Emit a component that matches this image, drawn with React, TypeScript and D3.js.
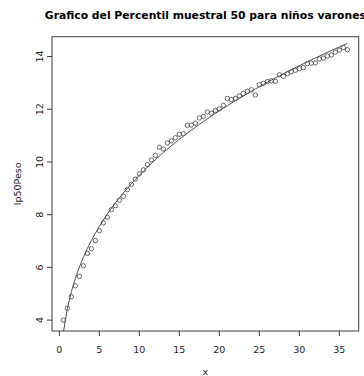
import React from "react";
import * as d3 from "d3";

const ages: number[] = [
  0.5, 1, 1.5, 2, 2.5, 3, 3.5, 4, 4.5, 5, 5.5, 6, 6.5, 7, 7.5, 8, 8.5, 9, 9.5, 10,
  10.5, 11, 11.5, 12, 12.5, 13, 13.5, 14, 14.5, 15, 15.5, 16, 16.5, 17, 17.5, 18,
  18.5, 19, 19.5, 20, 20.5, 21, 21.5, 22, 22.5, 23, 23.5, 24, 24.5, 25, 25.5, 26,
  26.5, 27, 27.5, 28, 28.5, 29, 29.5, 30, 30.5, 31, 31.5, 32, 32.5, 33, 33.5, 34,
  34.5, 35, 35.5, 36,
];
const p50Peso: number[] = [
  4.0, 4.45, 4.89, 5.3, 5.66, 6.06, 6.53, 6.71, 7.02, 7.39, 7.69, 7.9, 8.19, 8.34,
  8.55, 8.7, 8.95, 9.15, 9.35, 9.55, 9.7, 9.9, 10.08, 10.25, 10.56, 10.49, 10.72,
  10.8, 10.92, 11.05, 11.07, 11.39, 11.4, 11.47, 11.67, 11.73, 11.9, 11.85, 11.95,
  12.02, 12.15, 12.41, 12.37, 12.41, 12.51, 12.6, 12.68, 12.74, 12.54, 12.93,
  12.98, 13.05, 13.08, 13.06, 13.31, 13.25, 13.35, 13.42, 13.48, 13.54, 13.58,
  13.73, 13.75, 13.76, 13.91, 13.94, 14.02, 14.06, 14.17, 14.24, 14.34, 14.26,
];
const xTicks: number[] = [0, 5, 10, 15, 20, 25, 30, 35];
const yTicks: number[] = [4, 6, 8, 10, 12, 14];

const titleText = "Grafico del Percentil muestral 50 para niños varones";
const xLabel = "x";
const yLabel = "lp50Peso";

// Nonlinear least squares fit y = a * x^b (Gauss-Newton), derived from the data
function fitPower(xs: number[], ys: number[]) {
  const lx = xs.map(Math.log);
  const ly = ys.map(Math.log);
  const mx = d3.mean(lx)!;
  const my = d3.mean(ly)!;
  let sxy = 0, sxx = 0;
  lx.forEach((v, i) => { sxy += (v - mx) * (ly[i] - my); sxx += (v - mx) * (v - mx); });
  let b = sxy / sxx;
  let a = Math.exp(my - b * mx);
  for (let it = 0; it < 30; it++) {
    let j11 = 0, j12 = 0, j22 = 0, g1 = 0, g2 = 0;
    xs.forEach((x, i) => {
      const f = a * Math.pow(x, b);
      const r = ys[i] - f;
      const da = Math.pow(x, b);
      const db = f * Math.log(x);
      j11 += da * da; j12 += da * db; j22 += db * db;
      g1 += da * r; g2 += db * r;
    });
    const det = j11 * j22 - j12 * j12;
    const stepA = (j22 * g1 - j12 * g2) / det;
    const stepB = (j11 * g2 - j12 * g1) / det;
    a += stepA; b += stepB;
  }
  return { a, b };
}

export default function App() {
  const W = 364, H = 376;
  const left = 52, right = 358.7, top = 36.7, bottom = 331;

  const [x0, x1] = d3.extent(ages) as [number, number];
  const [y0, y1] = d3.extent(p50Peso) as [number, number];
  const xr = (x1 - x0) * 0.04, yr = (y1 - y0) * 0.04;
  const x = d3.scaleLinear().domain([x0 - xr, x1 + xr]).range([left, right]);
  const y = d3.scaleLinear().domain([y0 - yr, y1 + yr]).range([bottom, top]);

  const { a, b } = fitPower(ages, p50Peso);
  const line = d3.line<number>().x((d) => x(d)).y((d) => y(a * Math.pow(d, b)));
  const path = line(ages) || "";

  const stroke = "#3a3a3a";
  const font = "DejaVu Sans, Liberation Sans, sans-serif";

  return (
    <svg width={W} height={H} style={{ position: "absolute", left: 0, top: 0, background: "#fff" }}>
      <defs>
        <clipPath id="plotclip">
          <rect x={left} y={top} width={right - left} height={bottom - top} />
        </clipPath>
      </defs>
      <rect x={0} y={0} width={W} height={H} fill="#fff" />
      <text x={(left + right) / 2} y={18.5} textAnchor="middle" fontFamily={font} fontWeight="bold" fontSize={10.8} fill="#000">
        {titleText}
      </text>
      <rect x={left} y={top} width={right - left} height={bottom - top} fill="none" stroke={stroke} strokeWidth={1} />
      {xTicks.map((t) => (
        <g key={"x" + t}>
          <line x1={x(t)} x2={x(t)} y1={bottom} y2={bottom + 5} stroke={stroke} strokeWidth={1} />
          <text x={x(t)} y={353} textAnchor="middle" fontFamily={font} fontSize={9.5} fill="#222">{t}</text>
        </g>
      ))}
      {yTicks.map((t) => (
        <g key={"y" + t}>
          <line x1={left - 5} x2={left} y1={y(t)} y2={y(t)} stroke={stroke} strokeWidth={1} />
          <text transform={`translate(42.5,${y(t)}) rotate(-90)`} textAnchor="middle" fontFamily={font} fontSize={9.5} fill="#222">{t}</text>
        </g>
      ))}
      <text x={(left + right) / 2} y={375} textAnchor="middle" fontFamily={font} fontSize={9.5} fill="#222">{xLabel}</text>
      <text transform={`translate(20.5,${(top + bottom) / 2}) rotate(-90)`} textAnchor="middle" fontFamily={font} fontSize={9.5} fill="#222">{yLabel}</text>
      <g clipPath="url(#plotclip)">
        <path d={path} fill="none" stroke={stroke} strokeWidth={0.9} />
      </g>
      {ages.map((d, i) => (
        <circle key={i} cx={x(d)} cy={y(p50Peso[i])} r={2.2} fill="none" stroke="#444" strokeWidth={0.8} />
      ))}
    </svg>
  );
}
